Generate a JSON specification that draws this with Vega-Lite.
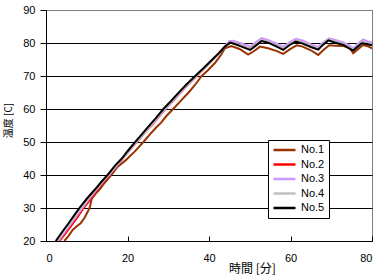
{
  "$schema": "https://vega.github.io/schema/vega-lite/v6.json",
  "width": 326,
  "height": 231,
  "autosize": {"type": "none"},
  "padding": {"left": 46, "top": 10, "right": 8, "bottom": 37},
  "background": "white",
  "config": {
    "view": {"stroke": "#808080", "strokeWidth": 1},
    "axis": {"labelFont": "Liberation Sans", "labelFontSize": 11, "labelColor": "black", "domainColor": "black", "tickColor": "black", "titleFont": "Noto Sans CJK JP", "titleFontSize": 11, "titleFontWeight": "normal", "titleColor": "black"}
  },
  "data": {"values": [
    {"s":"No.1","t":4.5,"v":20},{"s":"No.1","t":5.5,"v":21.5},{"s":"No.1","t":6.5,"v":23.3},{"s":"No.1","t":7.4,"v":24.3},{"s":"No.1","t":8.5,"v":25.4},{"s":"No.1","t":9.4,"v":26.9},{"s":"No.1","t":10.3,"v":29},{"s":"No.1","t":10.8,"v":30.4},{"s":"No.1","t":11.2,"v":32.8},{"s":"No.1","t":12.3,"v":34.5},{"s":"No.1","t":13.3,"v":35.8},{"s":"No.1","t":14.3,"v":37.5},{"s":"No.1","t":16,"v":40},{"s":"No.1","t":17.6,"v":42.5},{"s":"No.1","t":19.6,"v":44.5},{"s":"No.1","t":20.5,"v":45.6},{"s":"No.1","t":21.7,"v":47},{"s":"No.1","t":23.9,"v":50},{"s":"No.1","t":25.5,"v":52.3},{"s":"No.1","t":27.2,"v":54.6},{"s":"No.1","t":28.2,"v":55.8},{"s":"No.1","t":29.5,"v":57.8},{"s":"No.1","t":31.2,"v":60},{"s":"No.1","t":33,"v":62.4},{"s":"No.1","t":35,"v":65},{"s":"No.1","t":36.5,"v":67.2},{"s":"No.1","t":38.2,"v":70},{"s":"No.1","t":39.8,"v":71.8},{"s":"No.1","t":41.5,"v":74},{"s":"No.1","t":43,"v":76.5},{"s":"No.1","t":43.9,"v":78.4},{"s":"No.1","t":45.5,"v":79.1},{"s":"No.1","t":47.5,"v":78.2},{"s":"No.1","t":49.6,"v":76.5},{"s":"No.1","t":51,"v":77.5},{"s":"No.1","t":52.5,"v":78.9},{"s":"No.1","t":54.5,"v":78.4},{"s":"No.1","t":56.5,"v":77.6},{"s":"No.1","t":58.2,"v":76.7},{"s":"No.1","t":60,"v":78.2},{"s":"No.1","t":61.5,"v":79.3},{"s":"No.1","t":63,"v":78.9},{"s":"No.1","t":65,"v":77.8},{"s":"No.1","t":66.8,"v":76.4},{"s":"No.1","t":68,"v":77.8},{"s":"No.1","t":69.5,"v":79.3},{"s":"No.1","t":71,"v":79.2},{"s":"No.1","t":73,"v":79.1},{"s":"No.1","t":74.5,"v":78.5},{"s":"No.1","t":75.4,"v":76.9},{"s":"No.1","t":76.5,"v":78},{"s":"No.1","t":77.8,"v":79.4},{"s":"No.1","t":79,"v":79},{"s":"No.1","t":80,"v":78.4},
    {"s":"No.2","t":3.3,"v":20},{"s":"No.2","t":4.8,"v":22.3},{"s":"No.2","t":6.3,"v":24.8},{"s":"No.2","t":7.8,"v":27.4},{"s":"No.2","t":9,"v":29.6},{"s":"No.2","t":10.5,"v":32},{"s":"No.2","t":12.2,"v":34.9},{"s":"No.2","t":13.8,"v":37.4},{"s":"No.2","t":15.5,"v":40},{"s":"No.2","t":17.3,"v":42.7},{"s":"No.2","t":19,"v":45.2},{"s":"No.2","t":20.8,"v":47.9},{"s":"No.2","t":22.3,"v":50},{"s":"No.2","t":24.3,"v":52.9},{"s":"No.2","t":26.3,"v":55.6},{"s":"No.2","t":28.3,"v":58.5},{"s":"No.2","t":30.3,"v":61.3},{"s":"No.2","t":32.3,"v":64},{"s":"No.2","t":34.3,"v":66.7},{"s":"No.2","t":36.4,"v":69.3},{"s":"No.2","t":38.4,"v":71.8},{"s":"No.2","t":40.4,"v":74.3},{"s":"No.2","t":42.4,"v":76.9},{"s":"No.2","t":44,"v":79.1},{"s":"No.2","t":45.2,"v":80.2},{"s":"No.2","t":46.5,"v":79.8},{"s":"No.2","t":48,"v":79.2},{"s":"No.2","t":50.1,"v":78.2},{"s":"No.2","t":51.5,"v":79.6},{"s":"No.2","t":52.9,"v":80.9},{"s":"No.2","t":54.5,"v":80.4},{"s":"No.2","t":56.5,"v":79.3},{"s":"No.2","t":58.2,"v":78.2},{"s":"No.2","t":59.8,"v":79.7},{"s":"No.2","t":61.3,"v":80.7},{"s":"No.2","t":63,"v":80.1},{"s":"No.2","t":65,"v":79.1},{"s":"No.2","t":66.8,"v":78.2},{"s":"No.2","t":68,"v":79.8},{"s":"No.2","t":69.3,"v":81},{"s":"No.2","t":71,"v":80.4},{"s":"No.2","t":73,"v":79.7},{"s":"No.2","t":74.5,"v":78.6},{"s":"No.2","t":75.4,"v":77.9},{"s":"No.2","t":76.5,"v":79.2},{"s":"No.2","t":77.5,"v":80.2},{"s":"No.2","t":78.7,"v":80},{"s":"No.2","t":80,"v":79.6},
    {"s":"No.3","t":3,"v":20},{"s":"No.3","t":4.5,"v":22.5},{"s":"No.3","t":6,"v":25},{"s":"No.3","t":7.5,"v":27.6},{"s":"No.3","t":8.8,"v":29.8},{"s":"No.3","t":10.5,"v":32.6},{"s":"No.3","t":12.3,"v":35.4},{"s":"No.3","t":14,"v":38},{"s":"No.3","t":15.6,"v":40.2},{"s":"No.3","t":17.5,"v":43},{"s":"No.3","t":19.2,"v":45.6},{"s":"No.3","t":21,"v":48.3},{"s":"No.3","t":22.5,"v":50.4},{"s":"No.3","t":24.5,"v":53.3},{"s":"No.3","t":26.5,"v":56},{"s":"No.3","t":28.5,"v":58.9},{"s":"No.3","t":30.5,"v":61.7},{"s":"No.3","t":32.5,"v":64.4},{"s":"No.3","t":34.5,"v":67},{"s":"No.3","t":36.5,"v":69.6},{"s":"No.3","t":38.5,"v":72},{"s":"No.3","t":40.5,"v":74.5},{"s":"No.3","t":42.5,"v":77.1},{"s":"No.3","t":44,"v":79.3},{"s":"No.3","t":45,"v":80.6},{"s":"No.3","t":46,"v":80.7},{"s":"No.3","t":48,"v":79.9},{"s":"No.3","t":50.2,"v":78.9},{"s":"No.3","t":51.5,"v":80.2},{"s":"No.3","t":52.9,"v":81.5},{"s":"No.3","t":54.5,"v":80.9},{"s":"No.3","t":56.5,"v":79.9},{"s":"No.3","t":58.2,"v":78.8},{"s":"No.3","t":59.8,"v":80.3},{"s":"No.3","t":61.3,"v":81.3},{"s":"No.3","t":63,"v":80.8},{"s":"No.3","t":65,"v":79.6},{"s":"No.3","t":66.8,"v":78.8},{"s":"No.3","t":68,"v":80.2},{"s":"No.3","t":69.5,"v":81.4},{"s":"No.3","t":71,"v":80.9},{"s":"No.3","t":73,"v":80.2},{"s":"No.3","t":74.5,"v":79.2},{"s":"No.3","t":75.4,"v":78.4},{"s":"No.3","t":76.5,"v":79.8},{"s":"No.3","t":77.8,"v":81.1},{"s":"No.3","t":79,"v":80.5},{"s":"No.3","t":80,"v":80.1},
    {"s":"No.4","t":2.7,"v":20},{"s":"No.4","t":4.2,"v":22.6},{"s":"No.4","t":5.7,"v":25.1},{"s":"No.4","t":7.2,"v":27.7},{"s":"No.4","t":8.4,"v":29.8},{"s":"No.4","t":10.2,"v":32.7},{"s":"No.4","t":12.1,"v":35.5},{"s":"No.4","t":13.7,"v":37.8},{"s":"No.4","t":15.3,"v":40},{"s":"No.4","t":17.2,"v":42.8},{"s":"No.4","t":18.8,"v":45},{"s":"No.4","t":20.3,"v":47.3},{"s":"No.4","t":22,"v":49.8},{"s":"No.4","t":23.8,"v":52.3},{"s":"No.4","t":25.3,"v":54.5},{"s":"No.4","t":27.2,"v":57.2},{"s":"No.4","t":29,"v":59.8},{"s":"No.4","t":30.7,"v":62.1},{"s":"No.4","t":32.7,"v":64.8},{"s":"No.4","t":34.7,"v":67.4},{"s":"No.4","t":36.8,"v":69.9},{"s":"No.4","t":38.7,"v":72.1},{"s":"No.4","t":40.7,"v":74.6},{"s":"No.4","t":42.6,"v":77},{"s":"No.4","t":44.1,"v":79.1},{"s":"No.4","t":45.3,"v":80.3},{"s":"No.4","t":46.5,"v":79.9},{"s":"No.4","t":48,"v":79.2},{"s":"No.4","t":50.1,"v":78.2},{"s":"No.4","t":51.5,"v":79.5},{"s":"No.4","t":52.9,"v":80.9},{"s":"No.4","t":54.5,"v":80.4},{"s":"No.4","t":56.5,"v":79.3},{"s":"No.4","t":58.2,"v":78.2},{"s":"No.4","t":59.8,"v":79.7},{"s":"No.4","t":61.3,"v":80.7},{"s":"No.4","t":63,"v":80.1},{"s":"No.4","t":65,"v":79.1},{"s":"No.4","t":66.8,"v":78.3},{"s":"No.4","t":68,"v":79.8},{"s":"No.4","t":69.3,"v":81.1},{"s":"No.4","t":71,"v":80.4},{"s":"No.4","t":73,"v":79.7},{"s":"No.4","t":74.5,"v":78.6},{"s":"No.4","t":75.4,"v":78},{"s":"No.4","t":76.5,"v":79.2},{"s":"No.4","t":77.5,"v":80.2},{"s":"No.4","t":78.7,"v":80},{"s":"No.4","t":80,"v":79.6},
    {"s":"No.5","t":2.4,"v":20},{"s":"No.5","t":4,"v":22.8},{"s":"No.5","t":5.5,"v":25.3},{"s":"No.5","t":7,"v":27.9},{"s":"No.5","t":8.2,"v":30},{"s":"No.5","t":10,"v":32.8},{"s":"No.5","t":12,"v":35.6},{"s":"No.5","t":13.5,"v":37.8},{"s":"No.5","t":15.1,"v":40},{"s":"No.5","t":17,"v":42.9},{"s":"No.5","t":18.6,"v":45},{"s":"No.5","t":20,"v":47.2},{"s":"No.5","t":21.8,"v":49.9},{"s":"No.5","t":23.5,"v":52.3},{"s":"No.5","t":25,"v":54.5},{"s":"No.5","t":27,"v":57.3},{"s":"No.5","t":28.8,"v":60},{"s":"No.5","t":30.5,"v":62.2},{"s":"No.5","t":32.5,"v":64.9},{"s":"No.5","t":34.5,"v":67.5},{"s":"No.5","t":36.6,"v":70},{"s":"No.5","t":38.5,"v":72.2},{"s":"No.5","t":40.5,"v":74.6},{"s":"No.5","t":42.5,"v":77},{"s":"No.5","t":44,"v":79},{"s":"No.5","t":45.2,"v":80.1},{"s":"No.5","t":46.5,"v":79.6},{"s":"No.5","t":48,"v":78.9},{"s":"No.5","t":50.1,"v":77.9},{"s":"No.5","t":51.5,"v":79.2},{"s":"No.5","t":52.9,"v":80.6},{"s":"No.5","t":54.5,"v":80.1},{"s":"No.5","t":56.5,"v":79},{"s":"No.5","t":58.2,"v":77.9},{"s":"No.5","t":59.8,"v":79.4},{"s":"No.5","t":61.3,"v":80.4},{"s":"No.5","t":63,"v":79.8},{"s":"No.5","t":65,"v":78.8},{"s":"No.5","t":66.8,"v":78},{"s":"No.5","t":68,"v":79.5},{"s":"No.5","t":69.3,"v":80.8},{"s":"No.5","t":71,"v":80.1},{"s":"No.5","t":73,"v":79.4},{"s":"No.5","t":74.5,"v":78.3},{"s":"No.5","t":75.4,"v":77.7},{"s":"No.5","t":76.5,"v":78.9},{"s":"No.5","t":77.5,"v":79.9},{"s":"No.5","t":78.7,"v":79.7},{"s":"No.5","t":80,"v":79.3}
  ]},
  "mark": {"type": "line", "strokeWidth": 2, "clip": true},
  "encoding": {
    "x": {"field": "t", "type": "quantitative", "scale": {"domain": [0, 80], "nice": false},
      "axis": {"title": "時間 [分]", "values": [0, 20, 40, 60, 80], "grid": false, "tickSize": -5, "labelPadding": 16, "titleX": 206, "titleY": 34, "titleBaseline": "bottom", "titleFontSize": 12}},
    "y": {"field": "v", "type": "quantitative", "scale": {"domain": [20, 90], "nice": false, "zero": false},
      "axis": {"title": "温度 [C]", "values": [20, 30, 40, 50, 60, 70, 80, 90], "tickSize": 6, "labelPadding": 5,
        "gridColor": {"condition": {"test": "datum.value == 90", "value": "#808080"}, "value": "black"}, "gridOpacity": 1, "gridWidth": 1, "titlePadding": 9, "titleFontSize": 10, "titleY": 110}},
    "color": {"field": "s", "type": "nominal",
      "scale": {"domain": ["No.1", "No.2", "No.3", "No.4", "No.5"], "range": ["#993300", "#FF0000", "#CC99FF", "#C0C0C0", "#000000"]},
      "legend": {"title": null, "orient": "none", "legendX": 222, "legendY": 130, "strokeColor": "black", "fillColor": "white", "padding": 4,
        "symbolType": "stroke", "symbolSize": 484, "symbolStrokeWidth": 2.5, "labelFont": "Liberation Sans", "labelFontSize": 11, "labelColor": "black", "labelOffset": 4, "clipHeight": 12, "rowPadding": 2.5, "cornerRadius": 0}}
  }
}
